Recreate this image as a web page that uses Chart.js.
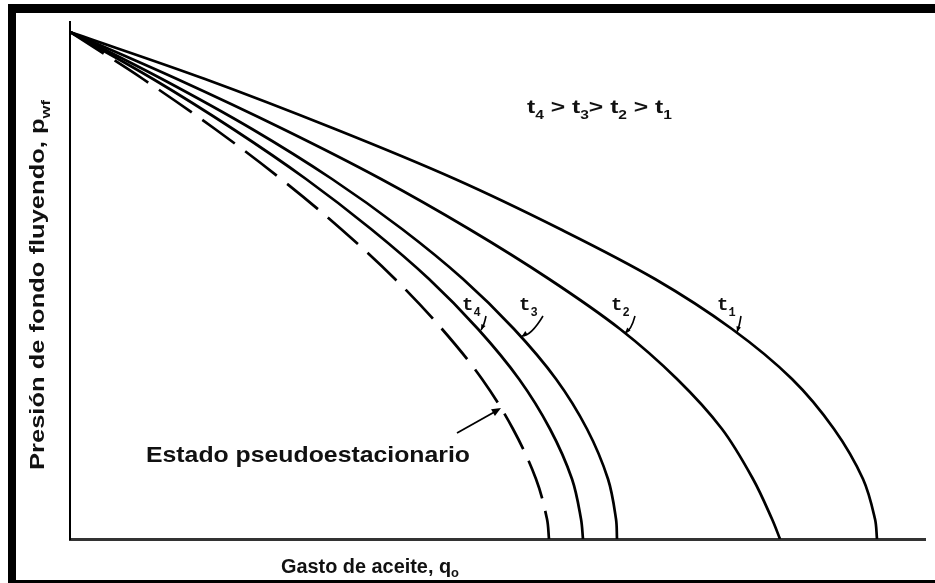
<!DOCTYPE html>
<html>
<head>
<meta charset="utf-8">
<script src="https://cdn.jsdelivr.net/npm/chart.js@4.4.0/dist/chart.umd.min.js"></script>
<style>
  html, body { margin: 0; padding: 0; background: #fff; }
  canvas { display: block; }
</style>
</head>
<body>
<canvas id="ipr-chart" width="935" height="583"></canvas>
<script>
// Curvas IPR (unidades arbitrarias: x = gasto, y = presión)
const presion = [507, 460, 410, 360, 310, 260, 210, 160, 110, 60, 20, 0];

const gastoT1 = [0, 135, 265, 385, 490, 585, 662, 722, 764, 793, 805, 807];
const gastoT2 = [0, 107, 213, 311, 399, 479, 550, 607, 652, 683, 702, 710];
const gastoT3 = [0, 92, 182, 262, 332, 393, 444, 486, 517, 538, 546, 547];
const gastoT4 = [0, 83, 163, 236, 301, 359, 408, 449, 480, 502, 511, 513];
// Estado pseudoestacionario (línea discontinua)
const gastoPss = [0, 73, 145, 211, 271, 325, 372, 412, 443, 466, 477, 479];

const curveLabels = ['1', '2', '3', '4'];

function toPoints(xs, ys) {
  return xs.map((x, i) => ({ x: x, y: ys[i] }));
}

function curve(xs, dash) {
  return {
    data: toPoints(xs, presion),
    showLine: true,
    borderColor: '#000',
    borderWidth: 2.7,
    borderDash: dash || [],
    pointRadius: 0,
    fill: false,
    tension: 0.35
  };
}

// Text with subscripts, optionally stretched to a target width
function drawRich(ctx, parts, x, y, opts) {
  const size = opts.size;
  const family = opts.family || '"Liberation Sans", Arial, sans-serif';
  const mainFont = `bold ${size}px ${family}`;
  const subFont = `bold ${Math.round(size * 0.65)}px ${family}`;
  let w = 0;
  parts.forEach(([t, sub]) => {
    ctx.font = sub ? subFont : mainFont;
    w += ctx.measureText(t).width;
  });
  const sx = opts.width ? opts.width / w : 1;
  ctx.save();
  ctx.translate(x, y);
  if (opts.rotate) ctx.rotate(opts.rotate);
  ctx.scale(sx, 1);
  let cx = opts.align === 'center' ? -w / 2 : 0;
  ctx.textBaseline = 'alphabetic';
  ctx.fillStyle = '#111';
  parts.forEach(([t, sub]) => {
    ctx.font = sub ? subFont : mainFont;
    ctx.fillText(t, cx, sub ? size * (opts.subDrop || 0.3) : 0);
    cx += ctx.measureText(t).width;
  });
  ctx.restore();
}

function arrowHead(ctx, x0, y0, x1, y1, len) {
  const a = Math.atan2(y1 - y0, x1 - x0);
  ctx.beginPath();
  ctx.moveTo(x1, y1);
  ctx.lineTo(x1 - len * Math.cos(a - 0.4), y1 - len * Math.sin(a - 0.4));
  ctx.lineTo(x1 - len * Math.cos(a + 0.4), y1 - len * Math.sin(a + 0.4));
  ctx.closePath();
  ctx.fill();
}

const annotations = {
  id: 'annotations',
  afterDraw(chart) {
    const ctx = chart.ctx;
    const xs = chart.scales.x;
    const ys = chart.scales.y;
    const px = v => xs.getPixelForValue(v);
    const py = v => ys.getPixelForValue(v);
    ctx.save();

    // marco negro de la figura escaneada
    ctx.fillStyle = '#000';
    ctx.fillRect(8, 4, 927, 9);
    ctx.fillRect(8, 4, 8, 579);
    ctx.fillRect(8, 580, 927, 3);

    // títulos de ejes
    drawRich(ctx, [['Presión de fondo fluyendo, p', 0], ['wf', 1]], 44, 285,
      { size: 20, width: 370, align: 'center', rotate: -Math.PI / 2 });
    drawRich(ctx, [['Gasto de aceite, q', 0], ['o', 1]], 370, 573,
      { size: 20, width: 178, align: 'center', subDrop: 0.2 });

    // relación de tiempos
    drawRich(ctx, [['t', 0], ['4', 1], [' > t', 0], ['3', 1], ['> t', 0], ['2', 1], [' > t', 0], ['1', 1]],
      527, 113, { size: 19, width: 145 });

    drawRich(ctx, [['Estado pseudoestacionario', 0]], 146, 462, { size: 22, width: 324 });

    // flecha al estado pseudoestacionario
    ctx.strokeStyle = '#000';
    ctx.fillStyle = '#000';
    ctx.lineWidth = 1.8;
    ctx.beginPath();
    ctx.moveTo(px(387), py(106));
    ctx.lineTo(px(428), py(129));
    ctx.stroke();
    arrowHead(ctx, px(387), py(106), px(431), py(131), 10);

    // etiquetas t1..t4 con flechitas
    const labelAt = [[647, 229], [541, 229], [449, 229], [392, 229]];
    const tipAt = [[667, 207], [555, 206], [452, 203], [411, 209]];
    const bend = [[-2, 0], [-4, 2], [-12, 4], [-2, 0]];
    curveLabels.forEach((n, i) => {
      const lx = px(labelAt[i][0]);
      const ly = py(labelAt[i][1]);
      drawRich(ctx, [['t', 0], [n, 1]], lx, ly, { size: 19, family: '"Liberation Mono", "DejaVu Sans Mono", monospace' });
      const sx = lx + 24, sy = ly + 6;
      const ex = px(tipAt[i][0]), ey = py(tipAt[i][1]);
      ctx.lineWidth = 1.6;
      ctx.beginPath();
      ctx.moveTo(sx, sy);
      ctx.quadraticCurveTo(sx + bend[i][0], ey - 4 + bend[i][1], ex, ey);
      ctx.stroke();
      arrowHead(ctx, sx + bend[i][0], ey - 6, ex, ey, 6);
    });

    ctx.restore();
  }
};

new Chart(document.getElementById('ipr-chart'), {
  type: 'scatter',
  data: {
    datasets: [
      curve(gastoT1),
      curve(gastoT2),
      curve(gastoT3),
      curve(gastoT4),
      curve(gastoPss, [40, 13])
    ]
  },
  options: {
    responsive: false,
    animation: false,
    layout: { padding: { left: 70, right: 10, top: 22, bottom: 44 } },
    plugins: {
      legend: { display: false },
      tooltip: { enabled: false }
    },
    scales: {
      x: {
        type: 'linear',
        min: 0,
        max: 855,
        ticks: { display: false },
        grid: { display: false, drawTicks: false },
        border: { color: '#333', width: 3 }
      },
      y: {
        min: 0,
        max: 517,
        ticks: { display: false },
        grid: { display: false, drawTicks: false },
        border: { color: '#000', width: 2 }
      }
    }
  },
  plugins: [annotations]
});
</script>
</body>
</html>
